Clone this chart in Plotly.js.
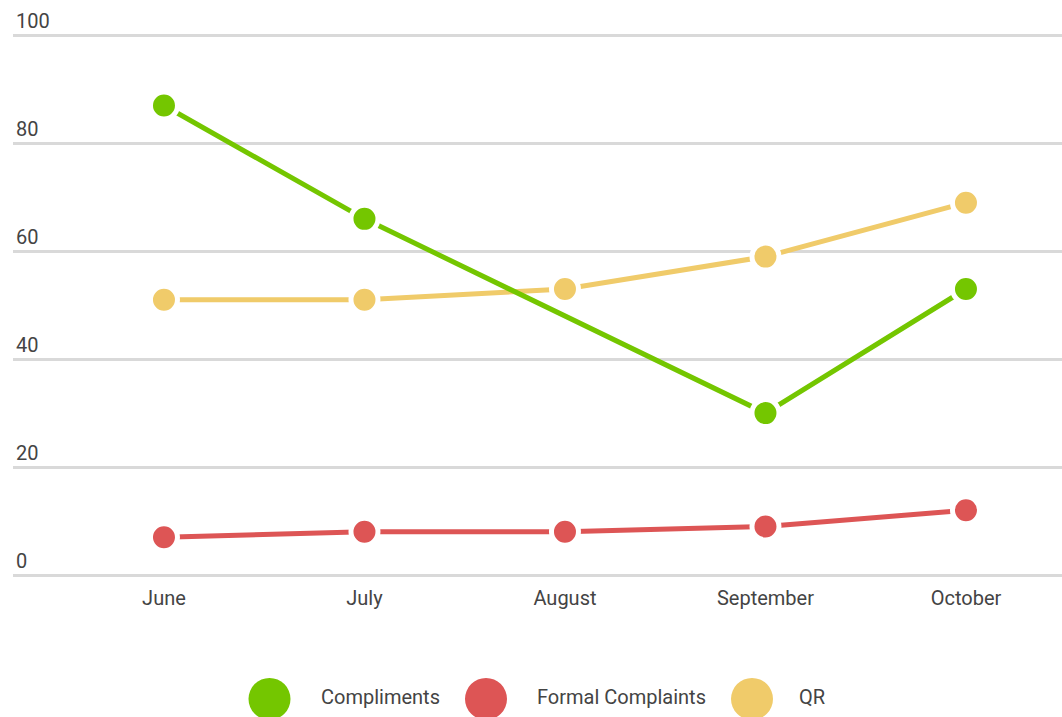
<!DOCTYPE html>
<html>
<head>
<meta charset="utf-8">
<script src="https://cdn.plot.ly/plotly-3.0.1.min.js"></script>
<style>html,body{margin:0;padding:0;background:#fff;}#chart{width:1062px;height:717px;}</style>
</head>
<body>
<div id="chart"></div>
<script>
const months = ["June", "July", "August", "September", "October"];
const compliments = [87, 66, null, 30, 53];
const formalComplaints = [7, 8, 8, 9, 12];
const qr = [51, 51, 53, 59, 69];
const seriesNames = ["Compliments", "Formal Complaints", "QR"];
const seriesColors = ["#74c600", "#dd5555", "#f0cb6a"];
const yTicks = [0, 20, 40, 60, 80, 100];

const seriesValues = [compliments, formalComplaints, qr];
const traces = seriesValues.map((vals, i) => ({
  type: "scatter",
  mode: "lines+markers",
  name: seriesNames[i],
  x: months,
  y: vals,
  connectgaps: true,
  cliponaxis: false,
  line: {color: seriesColors[i], width: 5},
  marker: {color: seriesColors[i], size: 27, line: {color: "#ffffff", width: 5}},
  hoverinfo: "x+y+name"
}));
const ordered = [traces[2], traces[1], traces[0]];

const W = 1062, H = 717;
const yMax = 106;
const pxPerUnit = 5.4;
const plotTop = 575 - yMax * pxPerUnit;
const legendX = [269.5, 486, 752];
const legendTextX = [319, 535, 797];
const shapes = [], annotations = [];
const toPaperY = py => (575 - py) / (yMax * pxPerUnit);
const toPaperX = px => (px - 13) / (W - 13);
seriesNames.forEach((n, i) => {
  const r = 21, cy = 699;
  shapes.push({type: "circle", xref: "paper", yref: "paper",
    x0: toPaperX(legendX[i] - r), x1: toPaperX(legendX[i] + r),
    y0: toPaperY(cy + r), y1: toPaperY(cy - r),
    fillcolor: seriesColors[i], line: {width: 0}});
  annotations.push({xref: "paper", yref: "paper",
    x: toPaperX(legendTextX[i]), y: toPaperY(697),
    xanchor: "left", yanchor: "middle", showarrow: false, text: n,
    font: {family: "Roboto, sans-serif", size: 20, color: "#444444"}});
});

const layout = {
  width: W, height: H,
  margin: {l: 13, r: 0, t: plotTop, b: 142, pad: 0},
  paper_bgcolor: "#ffffff", plot_bgcolor: "#ffffff",
  showlegend: false,
  font: {family: "Roboto, sans-serif", size: 20, color: "#444444"},
  xaxis: {
    type: "category",
    range: [-0.753, 4.479],
    showgrid: false, zeroline: false, showline: false,
    ticks: "", ticklabelstandoff: 9,
    tickfont: {family: "Roboto, sans-serif", size: 20, color: "#444444"},
    fixedrange: true
  },
  yaxis: {
    range: [0, yMax],
    tickvals: yTicks,
    ticktext: yTicks.map(String),
    ticklabelposition: "inside top",
    showgrid: true, gridcolor: "#d9d9d9", gridwidth: 3,
    zeroline: true, zerolinecolor: "#d9d9d9", zerolinewidth: 3,
    showline: false, ticks: "",
    tickfont: {family: "Roboto, sans-serif", size: 20, color: "#444444"},
    fixedrange: true
  },
  shapes: shapes,
  annotations: annotations
};

Plotly.newPlot("chart", ordered, layout, {displayModeBar: false});
</script>
</body>
</html>
